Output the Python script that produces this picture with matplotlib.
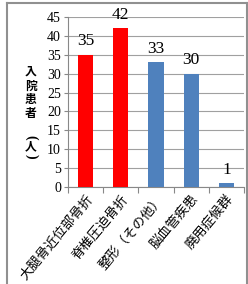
import matplotlib.pyplot as plt
from matplotlib.lines import Line2D

# data
categories = ['大腿骨近位部骨折', '脊椎圧迫骨折', '整形（その他）', '脳血管疾患', '廃用症候群']
values = [35, 42, 33, 30, 1]
colors = ['#ff0000', '#ff0000', '#4f81bd', '#4f81bd', '#4f81bd']
ylabel_chars = ['入', '院', '患', '者']

jp = ['Noto Sans CJK JP', 'DejaVu Sans']
serif = ['Liberation Serif']

fig = plt.figure(figsize=(2.48, 2.84), dpi=100)
ax = fig.add_axes([0.274, 0.342, 0.71, 0.598])

x = range(len(categories))
ax.bar(x, values, width=0.43, color=colors, zorder=3)
for i, v in zip(x, values):
    ax.text(i, v + 1.4, str(v), ha='center', va='bottom', fontsize=12.5, family=serif)

ax.set_xlim(-0.5, 4.5)
ax.set_ylim(0, 45)
ax.set_yticks(range(0, 46, 5))
ax.yaxis.grid(True, color='#a0a0a0', linewidth=0.8, zorder=0)
for lab in ax.get_yticklabels():
    lab.set_family(serif)
    lab.set_fontsize(10)
ax.tick_params(axis='y', length=3, color='#888888', pad=2)

ax.set_xticks([i + 0.5 for i in range(-1, 5)], minor=False)
ax.set_xticklabels([])
ax.tick_params(axis='x', length=4, color='#888888')
ax.set_xticks(list(x), minor=True)
ax.set_xticklabels(categories, minor=True, rotation=50, ha='right', rotation_mode='anchor',
                   fontsize=9.5, family=jp)
ax.tick_params(axis='x', which='minor', length=0, pad=4)

for s in ['top', 'right']:
    ax.spines[s].set_visible(False)
for s in ['left', 'bottom']:
    ax.spines[s].set_color('#888888')

# vertical y label
y0 = 0.745
for i, ch in enumerate(ylabel_chars):
    fig.text(0.125, y0 - i * 0.048, ch, ha='center', va='center', fontsize=8.5,
             fontweight='bold', family=jp)
# bracketed unit, brackets turned for vertical writing
fig.text(0.125, 0.516, '(', rotation=-90, ha='center', va='center', fontsize=10,
         fontweight='bold', family=serif)
fig.text(0.125, 0.482, '人', ha='center', va='center', fontsize=8.5, fontweight='bold', family=jp)
fig.text(0.125, 0.448, ')', rotation=-90, ha='center', va='center', fontsize=10,
         fontweight='bold', family=serif)

# outer frame
fig.add_artist(Line2D([0.03, 0.03], [0, 0.99], color='#909090', lw=1.5))
fig.add_artist(Line2D([0.03, 0.995], [0.99, 0.99], color='#909090', lw=1.5))
fig.add_artist(Line2D([0.995, 0.995], [0, 0.99], color='#909090', lw=1.5))

fig.savefig('out.png', dpi=100)
